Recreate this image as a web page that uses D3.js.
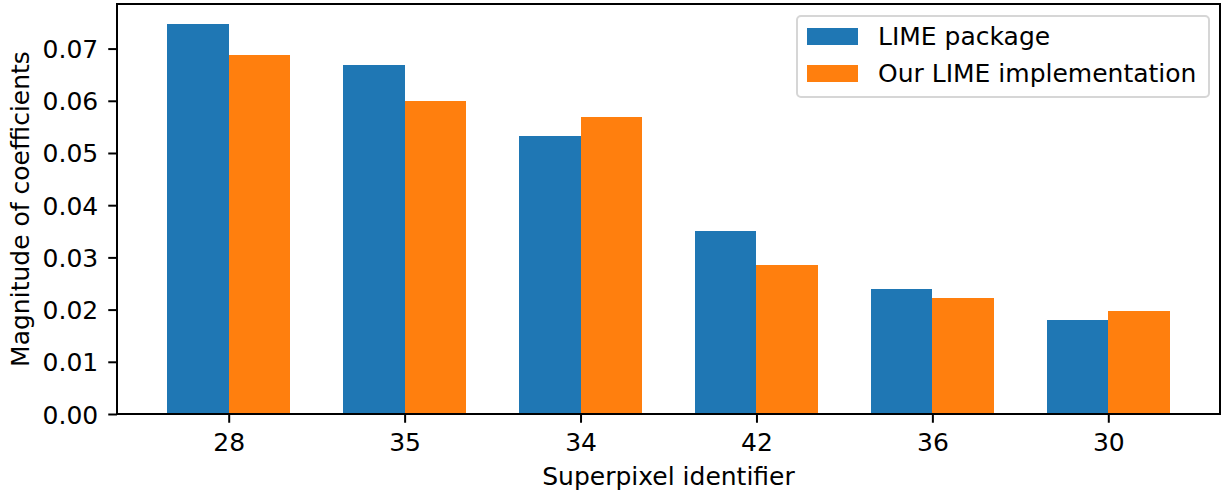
<!DOCTYPE html>
<html>
<head>
<meta charset="utf-8">
<script src="https://cdn.jsdelivr.net/npm/d3@7"></script>
<style>
  body { margin: 0; background: #fff; }
  svg text { font-family: "DejaVu Sans", sans-serif; fill: #000; }
</style>
</head>
<body>
<div id="chart"></div>
<script>
// data
const categories = ["28", "35", "34", "42", "36", "30"];
const limePackage = [0.0748, 0.0669, 0.0532, 0.0351, 0.0240, 0.0180];
const ourLime = [0.0688, 0.0600, 0.0569, 0.0286, 0.0222, 0.0197];
const yTicks = [0.00, 0.01, 0.02, 0.03, 0.04, 0.05, 0.06, 0.07];
const seriesNames = ["LIME package", "Our LIME implementation"];
const colors = ["#1f77b4", "#ff7f0e"];

const width = 1228, height = 491;
const margin = {top: 4, right: 8, bottom: 77, left: 117};
const barW = 0.35;
const fontSize = "25px";

const svg = d3.select("#chart").append("svg")
    .attr("width", width)
    .attr("height", height);

// index-based x scale like matplotlib (with 5% margins)
const n = categories.length;
const lo = -barW, hi = (n - 1) + barW;
const pad = (hi - lo) * 0.05;
const x = d3.scaleLinear()
    .domain([lo - pad, hi + pad])
    .range([margin.left, width - margin.right]);

const yMax = d3.max(limePackage.concat(ourLime)) * 1.05;
const y = d3.scaleLinear()
    .domain([0, yMax])
    .range([height - margin.bottom, margin.top]);

const series = [limePackage, ourLime];
series.forEach((vals, s) => {
    svg.append("g").selectAll("rect")
        .data(vals)
        .enter()
        .append("rect")
        .attr("x", (d, i) => x(i + (s === 0 ? -barW : 0)))
        .attr("width", x(barW) - x(0))
        .attr("y", d => y(d))
        .attr("height", d => y(0) - y(d))
        .attr("fill", colors[s])
        .attr("shape-rendering", "crispEdges");
});

// axes
const xAxis = d3.axisBottom(x)
    .tickValues(d3.range(n))
    .tickFormat(i => categories[i])
    .tickSizeInner(8.75).tickSizeOuter(0).tickPadding(10.5);
const yAxis = d3.axisLeft(y)
    .tickValues(yTicks)
    .tickFormat(d3.format(".2f"))
    .tickSizeInner(8.75).tickSizeOuter(0).tickPadding(10);

const gx = svg.append("g")
    .attr("transform", `translate(0,${height - margin.bottom})`)
    .call(xAxis);
const gy = svg.append("g")
    .attr("transform", `translate(${margin.left},0)`)
    .call(yAxis);
gy.selectAll("text").attr("dy", "0.36em");

[gx, gy].forEach(g => {
    g.select(".domain").remove();
    g.selectAll("line").attr("stroke", "#000").attr("stroke-width", 2);
    g.selectAll("text").style("font-size", fontSize).attr("fill", "#000");
});

// spines
svg.append("rect")
    .attr("x", margin.left)
    .attr("y", margin.top)
    .attr("width", width - margin.right - margin.left)
    .attr("height", height - margin.bottom - margin.top)
    .attr("fill", "none")
    .attr("stroke", "#000")
    .attr("stroke-width", 2);

// axis labels
svg.append("text")
    .attr("x", (margin.left + width - margin.right) / 2)
    .attr("y", 485)
    .attr("text-anchor", "middle")
    .style("font-size", fontSize)
    .text("Superpixel identifier");

svg.append("text")
    .attr("transform", `translate(29,${(margin.top + height - margin.bottom) / 2}) rotate(-90)`)
    .attr("text-anchor", "middle")
    .style("font-size", fontSize)
    .text("Magnitude of coefficients");

// legend
const legend = svg.append("g").attr("transform", "translate(797,16)");
legend.append("rect")
    .attr("width", 412).attr("height", 81)
    .attr("rx", 4)
    .attr("fill", "#fff").attr("fill-opacity", 0.8)
    .attr("stroke", "#d6d6d6").attr("stroke-width", 2);
seriesNames.forEach((name, i) => {
    legend.append("rect")
        .attr("x", 10).attr("y", 12 + i * 37)
        .attr("width", 51).attr("height", 17)
        .attr("fill", colors[i]);
    legend.append("text")
        .attr("x", 81).attr("y", 29 + i * 37)
        .style("font-size", fontSize)
        .text(name);
});
</script>
</body>
</html>
